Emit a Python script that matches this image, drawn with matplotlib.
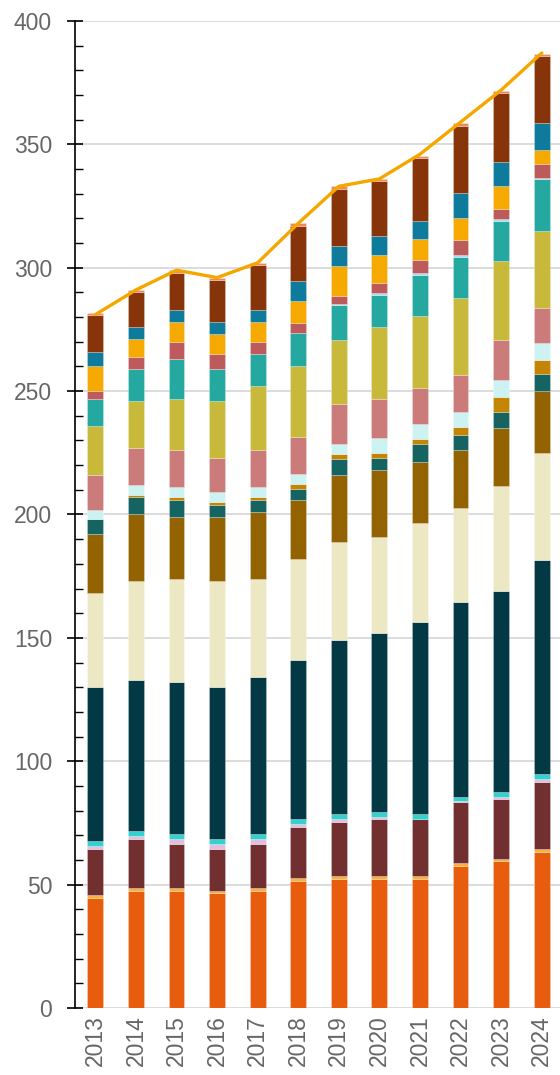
import matplotlib
matplotlib.use("Agg")
import matplotlib.pyplot as plt
import numpy as np

years = ["2013", "2014", "2015", "2016", "2017", "2018",
         "2019", "2020", "2021", "2022", "2023", "2024"]

# stacked series, bottom to top
s01_orange   = [44.7, 47.5, 47.5, 46.5, 47.5, 51.6, 52.4, 52.4, 52.4, 57.7, 59.4, 63.4]
s02_yellow   = [1.0, 1.0, 1.0, 0.9, 1.0, 1.0, 1.1, 1.1, 1.1, 0.9, 1.1, 1.0]
s03_maroon   = [18.9, 20.1, 18.1, 17.2, 18.1, 20.9, 22.0, 23.0, 23.0, 24.9, 24.1, 27.1]
s04_lavender = [0.9, 1.0, 2.0, 2.0, 2.0, 1.2, 1.0, 1.0, 0.2, 0.3, 0.8, 1.2]
s05_cyan     = [2.0, 2.0, 1.9, 2.0, 1.9, 1.9, 2.1, 2.1, 1.9, 1.8, 2.1, 2.0]
s06_navy     = [62.5, 61.4, 61.5, 61.4, 63.5, 64.4, 70.4, 72.4, 78.0, 79.1, 81.3, 87.0]
s07_cream    = [38.0, 40.0, 42.0, 43.0, 40.0, 41.0, 40.0, 39.0, 39.9, 38.0, 42.8, 43.1]
s08_brown_gd = [24.0, 27.0, 25.0, 26.0, 27.0, 24.0, 27.0, 27.0, 24.9, 23.5, 23.3, 25.1]
s09_dk_teal  = [6.0, 7.0, 7.0, 5.0, 5.0, 4.5, 6.5, 5.0, 7.1, 6.1, 6.6, 7.1]
s10_gold     = [0.3, 1.0, 1.0, 1.0, 1.0, 2.0, 2.1, 2.0, 1.9, 3.1, 6.1, 5.8]
s11_lt_cyan  = [3.7, 4.0, 4.0, 4.0, 4.0, 4.0, 4.1, 6.0, 6.2, 6.2, 7.1, 6.8]
s12_pink     = [14.0, 15.0, 15.0, 14.0, 15.0, 15.0, 15.9, 16.0, 14.7, 14.9, 16.0, 14.0]
s13_olive    = [20.0, 19.0, 21.0, 23.0, 26.0, 28.5, 26.2, 29.0, 29.2, 31.1, 32.1, 31.2]
s14_teal     = [11.0, 13.0, 16.0, 13.0, 13.0, 13.6, 14.0, 13.0, 16.6, 16.6, 16.3, 21.0]
s15_lt_blue  = [0.0, 0.0, 0.0, 0.0, 0.0, 0.0, 0.7, 0.8, 0.9, 1.0, 0.7, 0.7]
s16_rose     = [3.0, 5.0, 7.0, 6.0, 5.0, 4.0, 3.2, 4.2, 5.0, 6.1, 4.1, 5.4]
s17_amber    = [10.0, 7.0, 8.0, 8.0, 8.0, 8.9, 12.0, 11.0, 8.8, 9.0, 9.1, 5.8]
s18_blue     = [6.0, 5.0, 5.0, 5.0, 5.0, 8.1, 8.0, 8.0, 7.1, 9.8, 9.9, 11.1]
s19_brown    = [15.0, 14.0, 15.0, 17.0, 18.0, 22.4, 23.3, 22.0, 25.4, 27.3, 28.1, 27.2]
s20_salmon   = [0.5, 1.0, 1.0, 1.0, 1.0, 1.0, 1.0, 1.0, 1.0, 1.2, 0.8, 0.7]

total = [281, 291, 299, 296, 302, 318, 333, 336, 346, 359, 372, 387]

series = [s01_orange, s02_yellow, s03_maroon, s04_lavender, s05_cyan, s06_navy,
          s07_cream, s08_brown_gd, s09_dk_teal, s10_gold, s11_lt_cyan, s12_pink,
          s13_olive, s14_teal, s15_lt_blue, s16_rose, s17_amber, s18_blue,
          s19_brown, s20_salmon]
colors = ["#E85D0D", "#FBB03B", "#722F30", "#E6BEDD", "#33D1CF", "#033845",
          "#EDE8C4", "#926300", "#166461", "#C48505", "#CCF3F1", "#CC7B7B",
          "#C8B93B", "#24A8A0", "#A8DFEF", "#BD5B5C", "#F6A900", "#0E7A9C",
          "#87340A", "#F0875A"]

fig = plt.figure(figsize=(5.6, 10.75), dpi=100)
ax = fig.add_axes([0.134, 0.0623, 0.866, 0.9182])

x = np.arange(len(years))
bottom = np.zeros(len(years))
for vals, c in zip(series, colors):
    v = np.array(vals)
    ax.bar(x, v, width=0.39, bottom=bottom, color=c,
           edgecolor=(1, 1, 1, 0.35), linewidth=0.5, zorder=2)
    bottom += v

ax.plot(x, total, color="#F5A700", linewidth=2.4, zorder=3, solid_capstyle="round")

ax.set_ylim(0, 400)
ax.set_xlim(-0.5, 11.45)
ax.set_yticks(np.arange(0, 401, 50))
ax.set_yticks(np.arange(0, 401, 10), minor=True)
ax.set_xticks(x)
ax.set_xticklabels(years, rotation=90)

ax.grid(axis="y", which="major", color="#D9D9D9", linewidth=1.3, zorder=0)
ax.set_axisbelow(True)
for s in ["top", "right", "bottom"]:
    ax.spines[s].set_visible(False)
ax.spines["left"].set_linewidth(1.2)
ax.spines["left"].set_color("black")

ax.tick_params(axis="y", which="major", direction="inout", length=11, width=1.2,
               color="black", labelsize=16.5, labelcolor="#666666", pad=11)
ax.tick_params(axis="y", which="minor", direction="in", length=5.5, width=1.0,
               color="black")
ax.tick_params(axis="x", which="major", length=0, labelsize=16.5,
               labelcolor="#666666", pad=5)
for lab in ax.get_xticklabels() + ax.get_yticklabels():
    lab.set_fontfamily("Liberation Sans")

fig.savefig("out.png", dpi=100)
